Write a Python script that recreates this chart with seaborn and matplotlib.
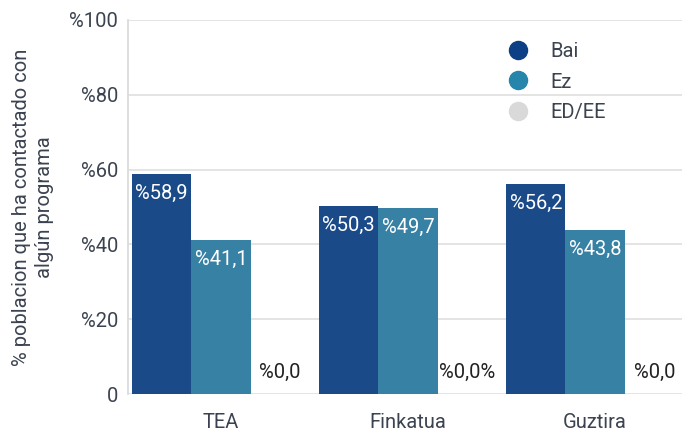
import pandas as pd
import numpy as np
import matplotlib
matplotlib.use("Agg")
import matplotlib.pyplot as plt
import seaborn as sns
from matplotlib.lines import Line2D

# data
categories = ["TEA", "Finkatua", "Guztira"]
series = ["Bai", "Ez", "ED/EE"]
bai = [58.9, 50.3, 56.2]
ez = [41.1, 49.7, 43.8]
ed_ee = [0.0, 0.0, 0.0]
ed_labels = ["%0,0", "%0,0%", "%0,0"]
y_ticks = [0, 20, 40, 60, 80, 100]

bar_colors = ["#1b4a89", "#3781a4", "#d9d9d9"]
legend_colors = ["#0d3f87", "#2585aa", "#d9d9d9"]
text_color = "#3c4350"
fs = 14.5

df = pd.DataFrame({
    "cat": categories * 3,
    "serie": [s for s in series for _ in categories],
    "val": bai + ez + ed_ee,
})

sns.set_style("white")
plt.rcParams["font.family"] = ["Roboto", "DejaVu Sans"]

fig = plt.figure(figsize=(6.82, 4.34), dpi=100)
ax = fig.add_axes([128 / 682, 1 - 394 / 434, 1 - 128 / 682, 374 / 434])

sns.barplot(
    data=df, x="cat", y="val", hue="serie",
    palette=bar_colors, saturation=1, width=0.95, gap=0,
    linewidth=0, legend=False, ax=ax, zorder=3
)

# value labels
for i, cont in enumerate(ax.containers):
    for j, p in enumerate(cont.patches):
        xc = p.get_x() + p.get_width() / 2
        h = p.get_height()
        if i < 2:
            txt = "%" + f"{h:.1f}".replace(".", ",")
            ax.annotate(txt, (xc, h), xytext=(0, -14), textcoords="offset points",
                        ha="center", va="center", color="white", fontsize=fs, zorder=5)
        else:
            ax.annotate(ed_labels[j], (xc, h), xytext=(0, 9), textcoords="offset points",
                        ha="center", va="bottom", color="#222222", fontsize=fs, zorder=5)

ax.set_ylim(0, 100)
ax.set_xlim(-0.497, 2.465)
ax.set_yticks(y_ticks)
ax.set_yticklabels(["0" if v == 0 else f"%{v}" for v in y_ticks])
ax.grid(axis="y", color="#e2e2e2", linewidth=1.3, zorder=0)
ax.tick_params(axis="y", length=0, pad=7, labelsize=fs, labelcolor=text_color)
ax.tick_params(axis="x", length=0, pad=14, labelsize=fs, labelcolor=text_color)
ax.set_xlabel("")
ax.set_ylabel("% poblacion que ha contactado con\nalgún programa", fontsize=fs,
              color=text_color, labelpad=11, linespacing=1.3)

for s in ["top", "right", "bottom"]:
    ax.spines[s].set_visible(False)
ax.spines["left"].set_color("#dcdcdc")
ax.spines["left"].set_linewidth(1.3)

handles = [Line2D([0], [0], marker="o", linestyle="", markersize=13,
                  markerfacecolor=c, markeredgecolor=c) for c in legend_colors]
leg = ax.legend(handles, series, loc="upper left", bbox_to_anchor=(0.635, 0.99),
                frameon=False, fontsize=fs, labelspacing=0.58, handletextpad=0.6)
for t in leg.get_texts():
    t.set_color(text_color)

fig.savefig("out.png", dpi=100)
